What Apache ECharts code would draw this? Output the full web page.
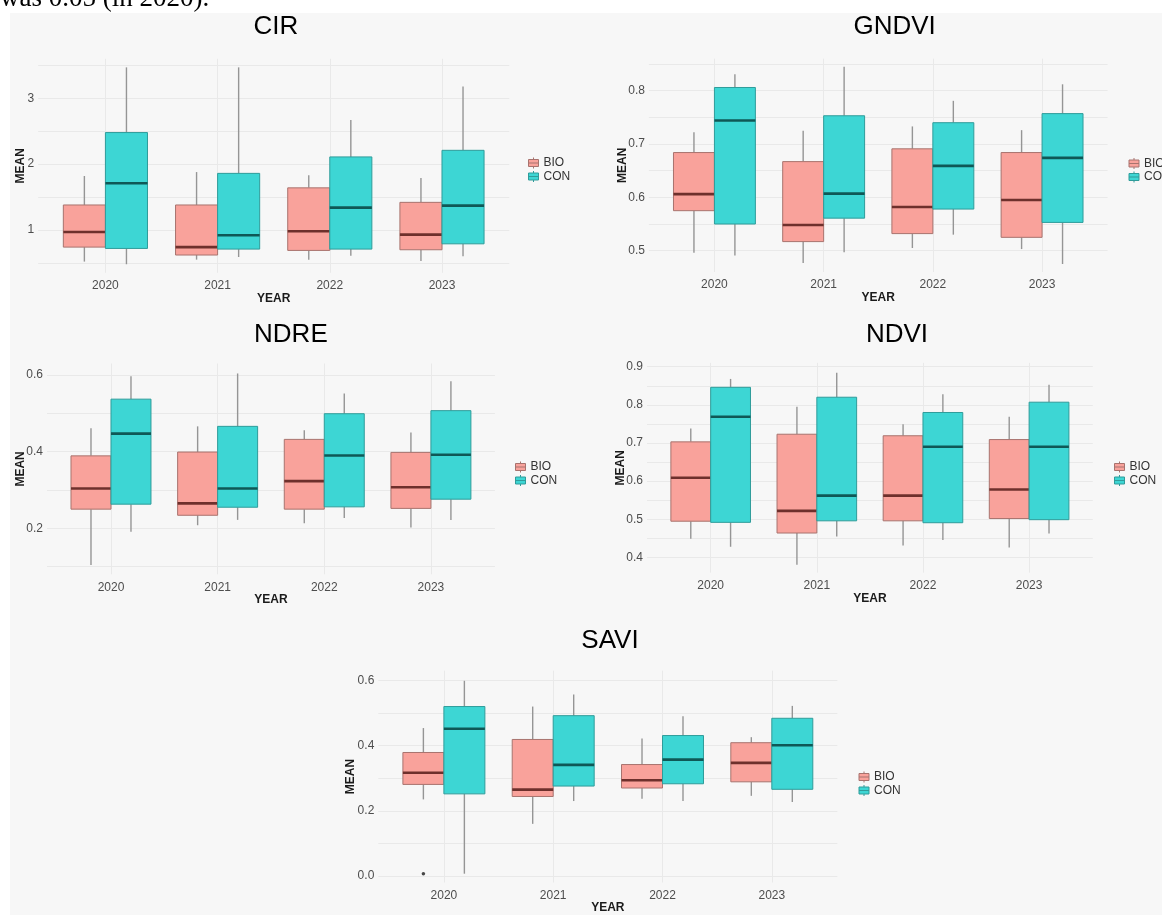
<!DOCTYPE html>
<html>
<head>
<meta charset="utf-8">
<script src="https://cdn.jsdelivr.net/npm/echarts@6/dist/echarts.min.js"></script>
<style>
html,body{margin:0;padding:0;background:#ffffff;}
#c{width:1162px;height:915px;}
</style>
</head>
<body>
<div id="c"></div>
<script>
// ---------------- data ----------------
const years = ['2020', '2021', '2022', '2023'];
const groups = ['BIO', 'CON'];
// each box: [lower whisker, Q1, median, Q3, upper whisker], one per year
const cir_bio = [[0.52, 0.74, 0.97, 1.38, 1.82], [0.55, 0.62, 0.74, 1.38, 1.88], [0.55, 0.69, 0.98, 1.64, 1.83], [0.53, 0.70, 0.93, 1.42, 1.79]];
const cir_con = [[0.48, 0.72, 1.71, 2.48, 3.47], [0.59, 0.71, 0.92, 1.86, 3.47], [0.61, 0.71, 1.34, 2.11, 2.67], [0.60, 0.79, 1.37, 2.21, 3.18]];
const gndvi_bio = [[0.496, 0.575, 0.606, 0.684, 0.722], [0.477, 0.517, 0.548, 0.667, 0.725], [0.505, 0.532, 0.582, 0.691, 0.733], [0.503, 0.525, 0.595, 0.684, 0.726]];
const gndvi_con = [[0.491, 0.550, 0.744, 0.806, 0.831], [0.497, 0.561, 0.607, 0.753, 0.845], [0.530, 0.578, 0.659, 0.740, 0.781], [0.475, 0.553, 0.674, 0.757, 0.812]];
const ndre_bio = [[0.104, 0.250, 0.304, 0.389, 0.461], [0.208, 0.234, 0.265, 0.399, 0.466], [0.213, 0.250, 0.323, 0.432, 0.456], [0.202, 0.252, 0.307, 0.398, 0.450]];
const ndre_con = [[0.191, 0.263, 0.447, 0.537, 0.597], [0.222, 0.255, 0.304, 0.466, 0.604], [0.227, 0.256, 0.390, 0.499, 0.552], [0.222, 0.276, 0.392, 0.507, 0.584]];
const ndvi_bio = [[0.449, 0.495, 0.609, 0.703, 0.738], [0.381, 0.464, 0.522, 0.723, 0.795], [0.431, 0.496, 0.562, 0.719, 0.749], [0.426, 0.502, 0.578, 0.709, 0.769]];
const ndvi_con = [[0.428, 0.492, 0.769, 0.846, 0.868], [0.455, 0.496, 0.562, 0.820, 0.884], [0.446, 0.491, 0.690, 0.780, 0.828], [0.463, 0.499, 0.690, 0.807, 0.853]];
const savi_bio = [[0.235, 0.281, 0.317, 0.379, 0.454], [0.160, 0.244, 0.265, 0.419, 0.520], [0.237, 0.270, 0.294, 0.342, 0.422], [0.246, 0.289, 0.347, 0.409, 0.426]];
const savi_con = [[0.007, 0.252, 0.452, 0.520, 0.599], [0.230, 0.276, 0.341, 0.492, 0.557], [0.230, 0.283, 0.357, 0.431, 0.490], [0.227, 0.266, 0.401, 0.484, 0.522]];
// outliers: [year, group, value]
const savi_outliers = [['2020', 'BIO', 0.007]];
const cropped_text = 'was 0.05 (in 2020).';

// ---------------- styles / layout ----------------
const FONT = "'Liberation Sans', Arial, sans-serif";
const FILL = { BIO: '#F9A29B', CON: '#3DD6D4' };
const EDGE = { BIO: '#a8736e', CON: '#2f9c9a' };
const MED = { BIO: '#6e302c', CON: '#0f5856' };
const WHISKER = '#959595';
const GRIDC = '#e9e9e9';
const DODGE = { BIO: -0.1875, CON: 0.1875 };
const BOX_W = 0.375;

const panels = [
  { title: 'CIR', bio: cir_bio, con: cir_con, outliers: [],
    grid: { left: 38.1, top: 58.8, width: 471.2, height: 214 },
    y: { min: 0.35, max: 3.6, step: 0.05, line: 0.5, major: 1, dec: 0 },
    titlePos: [275.8, 27], legendPos: [523, 152], nameGap: 11 },
  { title: 'GNDVI', bio: gndvi_bio, con: gndvi_con, outliers: [],
    grid: { left: 648.9, top: 58.7, width: 458.7, height: 213.3 },
    y: { min: 0.46, max: 0.86, step: 0.01, line: 0.05, major: 0.1, dec: 1 },
    titlePos: [894.6, 27], legendPos: [1123.5, 152.5], nameGap: 20.5 },
  { title: 'NDRE', bio: ndre_bio, con: ndre_con, outliers: [],
    grid: { left: 47, top: 363.5, width: 447.9, height: 210.8 },
    y: { min: 0.08, max: 0.63, step: 0.01, line: 0.1, major: 0.2, dec: 1 },
    titlePos: [290.9, 335], legendPos: [510, 456], nameGap: 20.5 },
  { title: 'NDVI', bio: ndvi_bio, con: ndvi_con, outliers: [],
    grid: { left: 647, top: 362.9, width: 445.8, height: 209.8 },
    y: { min: 0.36, max: 0.91, step: 0.01, line: 0.05, major: 0.1, dec: 1 },
    titlePos: [897, 335], legendPos: [1109, 456], nameGap: 20 },
  { title: 'SAVI', bio: savi_bio, con: savi_con, outliers: savi_outliers,
    grid: { left: 378.3, top: 670.7, width: 459.1, height: 216.6 },
    y: { min: -0.02, max: 0.63, step: 0.01, line: 0.1, major: 0.2, dec: 1 },
    titlePos: [610, 641], legendPos: [853.5, 766], nameGap: 21.5 }
];

function cycleColors(min, step, lineStep) {
  const period = Math.round(lineStep / step);
  const arr = new Array(period).fill('rgba(0,0,0,0)');
  const first = Math.ceil(min / lineStep - 1e-9) * lineStep;
  const k = ((Math.round((first - min) / step) % period) + period) % period;
  arr[k] = GRIDC;
  return arr;
}

function makeRender(g) {
  return function (params, api) {
    const x = api.value(0) + DODGE[g];
    const lo = api.coord([x, api.value(1)]);
    const q1 = api.coord([x, api.value(2)]);
    const md = api.coord([x, api.value(3)]);
    const q3 = api.coord([x, api.value(4)]);
    const hi = api.coord([x, api.value(5)]);
    const w = api.size([BOX_W, 0])[0];
    const cx = md[0];
    return {
      type: 'group',
      children: [
        { type: 'line', shape: { x1: cx, y1: hi[1], x2: cx, y2: q3[1] }, style: { stroke: WHISKER, lineWidth: 1.4 } },
        { type: 'line', shape: { x1: cx, y1: q1[1], x2: cx, y2: lo[1] }, style: { stroke: WHISKER, lineWidth: 1.4 } },
        { type: 'rect', shape: { x: cx - w / 2, y: q3[1], width: w, height: q1[1] - q3[1] }, style: { fill: FILL[g], stroke: EDGE[g], lineWidth: 1 } },
        { type: 'line', shape: { x1: cx - w / 2, y1: md[1], x2: cx + w / 2, y2: md[1] }, style: { stroke: MED[g], lineWidth: 2.6 } }
      ]
    };
  };
}

const ICON = 'path://M0,2 L10,2 L10,9 L0,9 Z M0,5.5 L10,5.5 M5,0 L5,2 M5,9 L5,11';

const option = {
  animation: false,
  backgroundColor: '#f7f7f7',
  grid: [], xAxis: [], yAxis: [], series: [], legend: [],
  graphic: { elements: [
    { type: 'rect', shape: { x: 0, y: 0, width: 1162, height: 13 }, style: { fill: '#ffffff' }, silent: true },
    { type: 'rect', shape: { x: 0, y: 0, width: 10, height: 915 }, style: { fill: '#ffffff' }, silent: true },
    { type: 'text', x: 0, y: -1, style: { text: cropped_text, font: "27px 'Liberation Serif', 'Times New Roman', serif", fill: '#000', textVerticalAlign: 'middle' }, silent: true }
  ] }
};

panels.forEach(function (p, i) {
  option.grid.push(Object.assign({ containLabel: false }, p.grid));
  option.xAxis.push({
    type: 'value', gridIndex: i, min: 0.4, max: 4.6, interval: 0.2,
    name: 'YEAR', nameLocation: 'middle', nameGap: 19.5, nameMoveOverlap: false,
    nameTextStyle: { fontFamily: FONT, fontSize: 12, fontWeight: 'bold', color: '#1a1a1a' },
    axisLine: { show: false }, axisTick: { show: false },
    axisLabel: {
      margin: 7, fontFamily: FONT, fontSize: 12, color: '#4d4d4d',
      formatter: function (v) { const r = Math.round(v); return (Math.abs(v - r) < 1e-6 && r >= 1 && r <= years.length) ? years[r - 1] : ''; }
    },
    splitLine: { show: true, lineStyle: { color: cycleColors(0.4, 0.2, 1), width: 1 } }
  });
  const y = p.y;
  option.yAxis.push({
    type: 'value', gridIndex: i, min: y.min, max: y.max, interval: y.step,
    name: 'MEAN', nameLocation: 'middle', nameRotate: 90, nameGap: p.nameGap, nameMoveOverlap: false,
    nameTextStyle: { fontFamily: FONT, fontSize: 12, fontWeight: 'bold', color: '#1a1a1a' },
    axisLine: { show: false }, axisTick: { show: false },
    axisLabel: {
      margin: 4, fontFamily: FONT, fontSize: 12, color: '#4d4d4d',
      formatter: function (v) { const r = v / y.major; if (Math.abs(r - Math.round(r)) >= 1e-6) return ''; return Math.abs(v) < 1e-9 ? (0).toFixed(y.dec) : v.toFixed(y.dec); }
    },
    splitLine: { show: true, lineStyle: { color: cycleColors(y.min, y.step, y.line), width: 1 } }
  });
  groups.forEach(function (g) {
    const vals = g === 'BIO' ? p.bio : p.con;
    option.series.push({
      type: 'custom', name: g, xAxisIndex: i, yAxisIndex: i,
      itemStyle: { color: FILL[g] },
      encode: { x: 0, y: [1, 2, 3, 4, 5] },
      data: vals.map(function (b, k) { return [k + 1].concat(b); }),
      renderItem: makeRender(g), silent: true, z: 2
    });
  });
  if (p.outliers.length) {
    option.series.push({
      type: 'scatter', xAxisIndex: i, yAxisIndex: i, symbolSize: 3.5, silent: true, z: 3,
      itemStyle: { color: '#1a1a1a' },
      data: p.outliers.map(function (o) { return [years.indexOf(o[0]) + 1 + DODGE[o[1]], o[2]]; })
    });
  }
  option.legend.push({
    orient: 'vertical', left: p.legendPos[0], top: p.legendPos[1],
    itemWidth: 10, itemHeight: 11, itemGap: 1.5, icon: ICON, selectedMode: false,
    textStyle: { fontFamily: FONT, fontSize: 12, color: '#333333' },
    data: groups.map(function (g) { return { name: g, itemStyle: { color: FILL[g], borderColor: EDGE[g], borderWidth: 1 } }; })
  });
  option.graphic.elements.push({
    type: 'text', x: p.titlePos[0], y: p.titlePos[1], silent: true,
    style: { text: p.title, font: '26px ' + FONT, fill: '#000000', textAlign: 'center', textVerticalAlign: 'middle' }
  });
});

const chart = echarts.init(document.getElementById('c'), null, { renderer: 'canvas' });
chart.setOption(option);
</script>
</body>
</html>
